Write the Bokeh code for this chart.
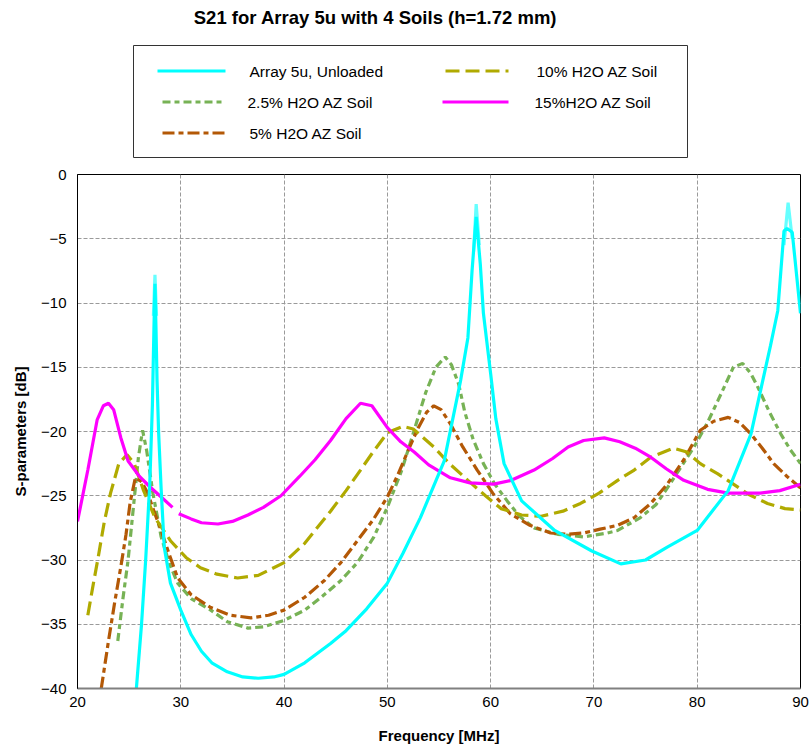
import numpy as np
from bokeh.plotting import figure
from bokeh.layouts import column
from bokeh.models import FixedTicker, Range1d
from bokeh.core.properties import value
from bokeh.embed import file_html
from bokeh.resources import INLINE

# ---------------- data ----------------
unloaded_f = [25.7, 26.2, 26.6, 27.0, 27.25, 27.4, 27.5, 27.6, 27.7, 27.85, 28.1, 28.4, 29.0, 30.0,
              31.0, 32.0, 33.0, 34.5, 36.0, 37.5, 39.0, 40.0, 42.0, 44.5, 46.0, 48.0, 50.0, 51.5,
              53.2, 55.5, 57.1, 57.8, 58.2, 58.6, 59.0, 59.3, 60.0, 60.5, 61.3, 63.0, 66.2, 69.8,
              72.6, 75.0, 77.1, 80.0, 83.0, 85.2, 87.1, 87.8, 88.4, 88.7, 89.2, 90.0]
unloaded_db = [-40.0, -35.0, -30.0, -24.0, -18.0, -12.0, -8.5, -12.0, -16.0, -20.0, -24.5, -29.0, -31.8, -33.9,
               -35.8, -37.1, -38.0, -38.7, -39.1, -39.2, -39.1, -38.9, -38.0, -36.5, -35.5, -33.8, -31.8, -29.5,
               -26.7, -22.3, -16.0, -12.7, -7.5, -3.3, -7.0, -10.8, -15.5, -19.0, -22.5, -25.4, -27.7, -29.3,
               -30.3, -30.0, -29.0, -27.7, -24.6, -20.2, -13.3, -10.6, -4.4, -4.2, -4.5, -10.8]

# lighter cyan trace, visible only where it rises above the main one (peaks)
unloaded_peak_f = [27.35, 27.5, 27.65, None, 58.35, 58.6, 58.9, None, 88.4, 88.8, 89.2]
unloaded_peak_db = [-11.0, -7.8, -11.0, None, -6.0, -2.3, -5.5, None, -5.5, -2.2, -5.0]

soil25_f = [23.9, 24.4, 24.9, 25.4, 25.9, 26.3, 26.7, 27.3, 28.1, 28.9, 29.7, 31.0, 32.9, 34.5, 36.5,
            38.0, 40.0, 42.0, 43.6, 45.5, 47.1, 48.7, 50.0, 51.4, 52.6, 53.7, 54.7, 55.6, 56.2, 56.9,
            57.5, 58.3, 59.3, 60.4, 61.6, 62.8, 64.2, 66.5, 69.0, 71.3, 72.3, 74.5, 76.0, 77.1, 78.4,
            79.7, 81.0, 82.0, 83.5, 84.4, 85.2, 85.9, 87.0, 88.1, 89.0, 90.0]
soil25_db = [-36.3, -33.0, -30.0, -26.0, -22.0, -19.9, -21.5, -24.8, -28.2, -30.3, -31.8, -33.0, -33.9, -34.8, -35.3,
             -35.2, -34.7, -33.9, -32.9, -31.6, -30.2, -28.2, -25.9, -23.0, -19.9, -17.0, -15.0, -14.2, -14.8, -16.3,
             -18.5, -20.6, -22.5, -24.1, -25.4, -26.6, -27.5, -28.0, -28.2, -27.9, -27.7, -26.7, -25.7, -24.4, -22.8,
             -21.2, -19.3, -17.6, -15.0, -14.7, -15.5, -16.6, -18.5, -20.2, -21.4, -22.5]

soil5_f = [22.3, 23.0, 23.6, 24.2, 24.7, 25.1, 25.6, 26.2, 26.8, 27.4, 28.1, 28.9, 29.7, 31.0, 32.9,
           34.8, 36.8, 38.5, 40.0, 42.0, 43.9, 45.5, 47.1, 48.6, 50.0, 51.0, 52.0, 53.0, 53.8, 54.5,
           55.2, 56.1, 57.3, 58.7, 60.2, 61.9, 63.8, 65.8, 67.5, 69.0, 70.6, 72.3, 73.9, 75.5, 77.1,
           78.7, 80.3, 81.6, 83.0, 84.1, 85.2, 86.3, 87.4, 88.7, 90.0]
soil5_db = [-40.0, -36.3, -33.3, -30.5, -28.0, -25.5, -23.6, -23.9, -24.8, -26.2, -27.7, -29.6, -31.4, -32.7, -33.7,
            -34.3, -34.5, -34.3, -33.9, -32.9, -31.6, -30.2, -28.5, -26.9, -25.1, -23.4, -21.5, -19.7, -18.5, -18.0,
            -18.3, -19.4, -21.2, -23.0, -24.8, -26.4, -27.3, -27.9, -28.0, -27.9, -27.6, -27.3, -26.7, -25.6, -24.1,
            -22.2, -19.9, -19.2, -18.9, -19.3, -20.2, -21.3, -22.5, -23.5, -24.4]

soil10_f = [21.0, 21.5, 22.0, 22.6, 23.2, 24.0, 24.8, 25.5, 26.4, 27.5, 29.0, 30.5, 31.9, 33.5, 35.5,
            37.5, 40.0, 42.0, 44.5, 46.0, 47.4, 48.7, 50.0, 51.5, 52.5, 54.5, 56.0, 57.8, 59.5, 61.0,
            63.0, 64.9, 67.0, 68.7, 70.5, 72.3, 73.9, 75.5, 77.7, 79.0, 80.3, 82.0, 83.5, 85.0, 86.8,
            88.5, 90.0]
soil10_db = [-34.3, -32.0, -29.8, -27.0, -24.8, -22.5, -21.8, -22.5, -24.6, -26.7, -28.5, -29.8, -30.6, -31.1, -31.4,
             -31.2, -30.2, -28.7, -26.2, -24.6, -23.0, -21.5, -20.1, -19.6, -19.8, -21.2, -22.5, -23.8, -25.0, -26.0,
             -26.5, -26.6, -26.2, -25.6, -24.8, -23.8, -23.0, -22.0, -21.3, -21.6, -22.5, -23.3, -24.1, -24.9, -25.6,
             -26.0, -26.1]

soil15_f = [20.0, 21.0, 21.9, 22.5, 23.0, 23.5, 24.2, 24.9, 26.0, 27.0, 28.1, 29.2, None, 29.8, 31.0,
            32.0, 33.6, 35.0, 36.5, 38.0, 39.7, 41.5, 43.0, 44.5, 46.0, 47.4, 48.5, 50.0, 51.3, 52.6,
            54.0, 56.1, 58.0, 60.3, 62.0, 64.2, 66.0, 67.5, 69.0, 71.0, 72.5, 74.0, 75.5, 77.0, 78.7,
            81.0, 83.0, 86.1, 88.0, 90.0]
soil15_db = [-27.0, -23.0, -19.1, -18.0, -17.8, -18.3, -20.5, -22.3, -23.5, -24.3, -25.1, -25.9, None, -26.4, -26.8,
             -27.1, -27.2, -27.0, -26.5, -25.9, -25.0, -23.5, -22.2, -20.7, -19.0, -17.8, -18.0, -19.7, -20.8, -21.6,
             -22.6, -23.6, -24.0, -24.1, -23.8, -23.0, -22.1, -21.2, -20.7, -20.5, -20.8, -21.3, -22.0, -22.9, -23.8,
             -24.5, -24.8, -24.8, -24.6, -24.1]

x_ticks = [20, 30, 40, 50, 60, 70, 80, 90]
y_ticks = [0, -5, -10, -15, -20, -25, -30, -35, -40]

series_labels = ["Array 5u, Unloaded", "2.5% H2O AZ Soil", "5% H2O AZ Soil",
                 "10% H2O AZ Soil", "15%H2O AZ Soil"]
series_colors = ["#00ffff", "#77b255", "#b35806", "#b0aa00", "#ff00ff"]
series_dashes = ["solid", "8 4 5 4", "12 4 5 4", "14 6", "solid"]
title_text = "S21 for Array 5u with 4 Soils (h=1.72 mm)"
x_label = "Frequency [MHz]"
y_label = "S-parameters [dB]"


def arr(v):
    return np.array([np.nan if a is None else a for a in v], dtype=float)


FONT = "Liberation Sans"
W, H = 809, 748
TOP_H = 160
LW = 3.2
BL, BR = 77, 9          # left / right borders shared by both figures
FW, FH = 723, 514       # frame size of the main plot

# ---------------- header figure: title + legend (pixel-like coordinates) ----------------
top = figure(width=W, height=TOP_H, output_backend="svg", toolbar_location=None,
             x_range=Range1d(BL, BL + FW), y_range=Range1d(TOP_H, 0),
             min_border_left=BL, min_border_right=BR, min_border_top=0, min_border_bottom=0,
             frame_width=FW, frame_height=TOP_H)
top.axis.visible = False
top.grid.visible = False
top.outline_line_color = None
top.background_fill_color = "white"
top.border_fill_color = "white"

# legend box
top.quad(left=[133], right=[687], top=[45], bottom=[157],
         fill_color="white", line_color="#333333", line_width=1)

# legend layout: (sample x0, sample x1, label x, row y) per series
leg_x0 = [157, 162, 162, 445, 442]
leg_x1 = [225, 225, 225, 508, 508]
leg_tx = [249, 247, 249, 536, 534]
leg_y = [70.5, 101.5, 132.5, 70.5, 101.5]
for i in range(5):
    top.line([leg_x0[i], leg_x1[i]], [leg_y[i], leg_y[i]], line_color=series_colors[i],
             line_width=LW, line_dash=series_dashes[i])
    top.text(x=[leg_tx[i]], y=[leg_y[i]], text=[series_labels[i]],
             text_font=value(FONT), text_font_size="15.5px", text_color="black",
             text_align="left", text_baseline="middle")

top.text(x=[375], y=[17], text=[title_text], text_font=value(FONT), text_font_size="18.5px",
         text_font_style="bold", text_align="center", text_baseline="middle", text_color="black")

# ---------------- main plot ----------------
p = figure(width=W, height=H - TOP_H, output_backend="svg", toolbar_location=None,
           x_range=Range1d(20, 90), y_range=Range1d(-40, 0),
           frame_width=FW, frame_height=FH,
           min_border_left=BL, min_border_right=BR, min_border_top=14, min_border_bottom=60)
p.background_fill_color = "white"
p.border_fill_color = "white"
p.outline_line_color = "black"
p.outline_line_width = 1

for g in (p.xgrid, p.ygrid):
    g.grid_line_color = "#9a9a9a"
    g.grid_line_dash = "4 2"
    g.grid_line_width = 1
p.xgrid.ticker = FixedTicker(ticks=x_ticks)
p.ygrid.ticker = FixedTicker(ticks=y_ticks)

p.xaxis.ticker = FixedTicker(ticks=x_ticks)
p.yaxis.ticker = FixedTicker(ticks=y_ticks)
for ax in (p.xaxis[0], p.yaxis[0]):
    ax.major_tick_line_color = None
    ax.minor_tick_line_color = None
    ax.major_label_text_font = FONT
    ax.major_label_text_font_size = "15px"
    ax.major_label_text_color = "black"
    ax.axis_label_text_font = FONT
    ax.axis_label_text_font_size = "15px"
    ax.axis_label_text_font_style = "bold"
    ax.axis_label_text_color = "black"
p.xaxis.axis_label = x_label
p.yaxis.axis_label = y_label
p.xaxis.axis_line_color = "#808080"
p.xaxis.axis_line_width = 2
p.yaxis.axis_line_color = "black"
p.xaxis.major_label_standoff = 2
p.yaxis.major_label_standoff = 5
p.xaxis.axis_label_standoff = 17
p.yaxis.axis_label_standoff = 9

p.line(arr(soil25_f), arr(soil25_db), line_color=series_colors[1], line_width=LW, line_dash=series_dashes[1])
p.line(arr(soil5_f), arr(soil5_db), line_color=series_colors[2], line_width=LW, line_dash=series_dashes[2])
p.line(arr(soil10_f), arr(soil10_db), line_color=series_colors[3], line_width=LW, line_dash=series_dashes[3])
p.line(arr(soil15_f), arr(soil15_db), line_color=series_colors[4], line_width=LW)
p.line(arr(unloaded_peak_f), arr(unloaded_peak_db), line_color="#66ffff", line_width=LW)
p.line(arr(unloaded_f), arr(unloaded_db), line_color=series_colors[0], line_width=LW)

layout = column(top, p, spacing=0)
open("out.html", "w").write(file_html(layout, INLINE))
